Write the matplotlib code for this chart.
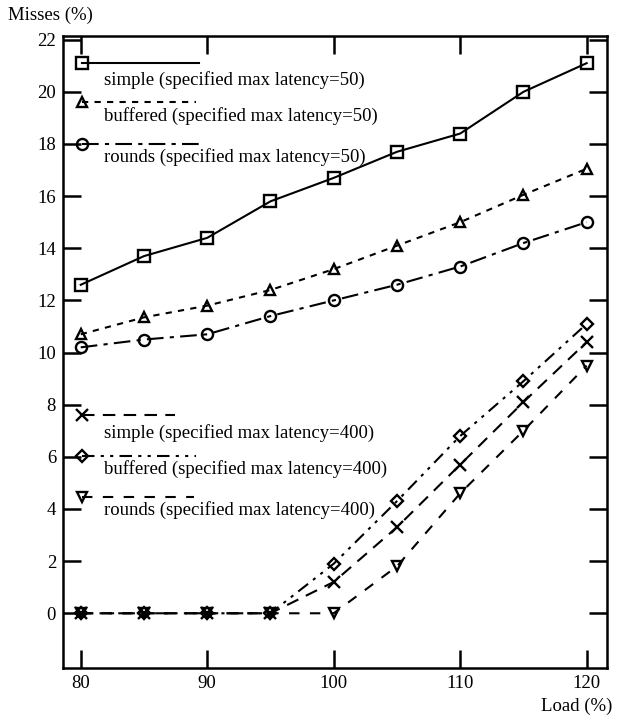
import matplotlib
matplotlib.use("Agg")
import matplotlib.pyplot as plt
from matplotlib.lines import Line2D

plt.rcParams['font.family'] = ['Liberation Serif', 'DejaVu Serif']
plt.rcParams['font.size'] = 13.5

load = [80, 85, 90, 95, 100, 105, 110, 115, 120]

simple_50 = [12.6, 13.7, 14.4, 15.8, 16.7, 17.7, 18.4, 20.0, 21.1]
buffered_50 = [10.7, 11.35, 11.8, 12.4, 13.2, 14.1, 15.0, 16.05, 17.05]
rounds_50 = [10.2, 10.5, 10.7, 11.4, 12.0, 12.6, 13.3, 14.2, 15.0]
simple_400 = [0, 0, 0, 0, 1.2, 3.3, 5.7, 8.1, 10.4]
buffered_400 = [0, 0, 0, 0, 1.9, 4.3, 6.8, 8.9, 11.1]
rounds_400 = [0, 0, 0, 0, 0, 1.8, 4.6, 7.0, 9.5]

labels_50 = ['simple (specified max latency=50)',
             'buffered (specified max latency=50)',
             'rounds (specified max latency=50)']
labels_400 = ['simple (specified max latency=400)',
              'buffered (specified max latency=400)',
              'rounds (specified max latency=400)']

styles = [
    dict(ls='-', marker='s', ms=8),
    dict(ls=(0, (3, 3)), marker='^', ms=7),
    dict(ls=(0, (8, 3, 2, 3)), marker='o', ms=8),
    dict(ls=(0, (6, 4)), marker='x', ms=9),
    dict(ls=(0, (6, 3, 1.5, 3, 1.5, 3)), marker='D', ms=6),
    dict(ls=(0, (5, 5)), marker='v', ms=7),
]
series = [simple_50, buffered_50, rounds_50, simple_400, buffered_400, rounds_400]

fig = plt.figure(figsize=(6.18, 7.16), dpi=100)
ax = fig.add_axes([0.102, 0.067, 0.88, 0.883])

for ys, st in zip(series, styles):
    ax.plot(load, ys, color='black', lw=1.5, ls=st['ls'], marker=st['marker'],
            ms=st['ms'], mfc='none', mec='black', mew=1.7)

ax.set_xlim(78.6, 121.6)
ax.set_ylim(-2.1, 22.15)
ax.set_xticks([80, 90, 100, 110, 120])
ax.set_yticks(range(0, 23, 2))
ax.tick_params(direction='in', length=13, width=1.8, top=True, right=True,
               labelsize=13.5, pad=5)
for sp in ax.spines.values():
    sp.set_linewidth(1.8)

# hand-placed keys: marker + line sample, text underneath
def key(y_line, y_text, x_end, st, text):
    ax.add_line(Line2D([0.035, x_end], [y_line, y_line], transform=ax.transAxes,
                       color='black', lw=1.5, ls=st['ls'], marker=st['marker'],
                       markevery=[0], ms=st['ms'], mfc='none', mec='black', mew=1.7))
    ax.text(0.075, y_text, text, transform=ax.transAxes, va='center', ha='left')

def ay(py):
    return (668 - py) / (668 - 36)

key(ay(63), ay(80), 0.25, styles[0], labels_50[0])
key(ay(102), ay(116), 0.245, styles[1], labels_50[1])
key(ay(144), ay(157), 0.25, styles[2], labels_50[2])
key(ay(415), ay(433), 0.205, styles[3], labels_400[0])
key(ay(456), ay(469), 0.245, styles[4], labels_400[1])
key(ay(497), ay(510), 0.24, styles[5], labels_400[2])

fig.text(8 / 618, 1 - 15 / 716, 'Misses (%)', ha='left', va='center')
fig.text(612 / 618, 1 - 706 / 716, 'Load (%)', ha='right', va='center')

fig.savefig('out.png', dpi=100)
